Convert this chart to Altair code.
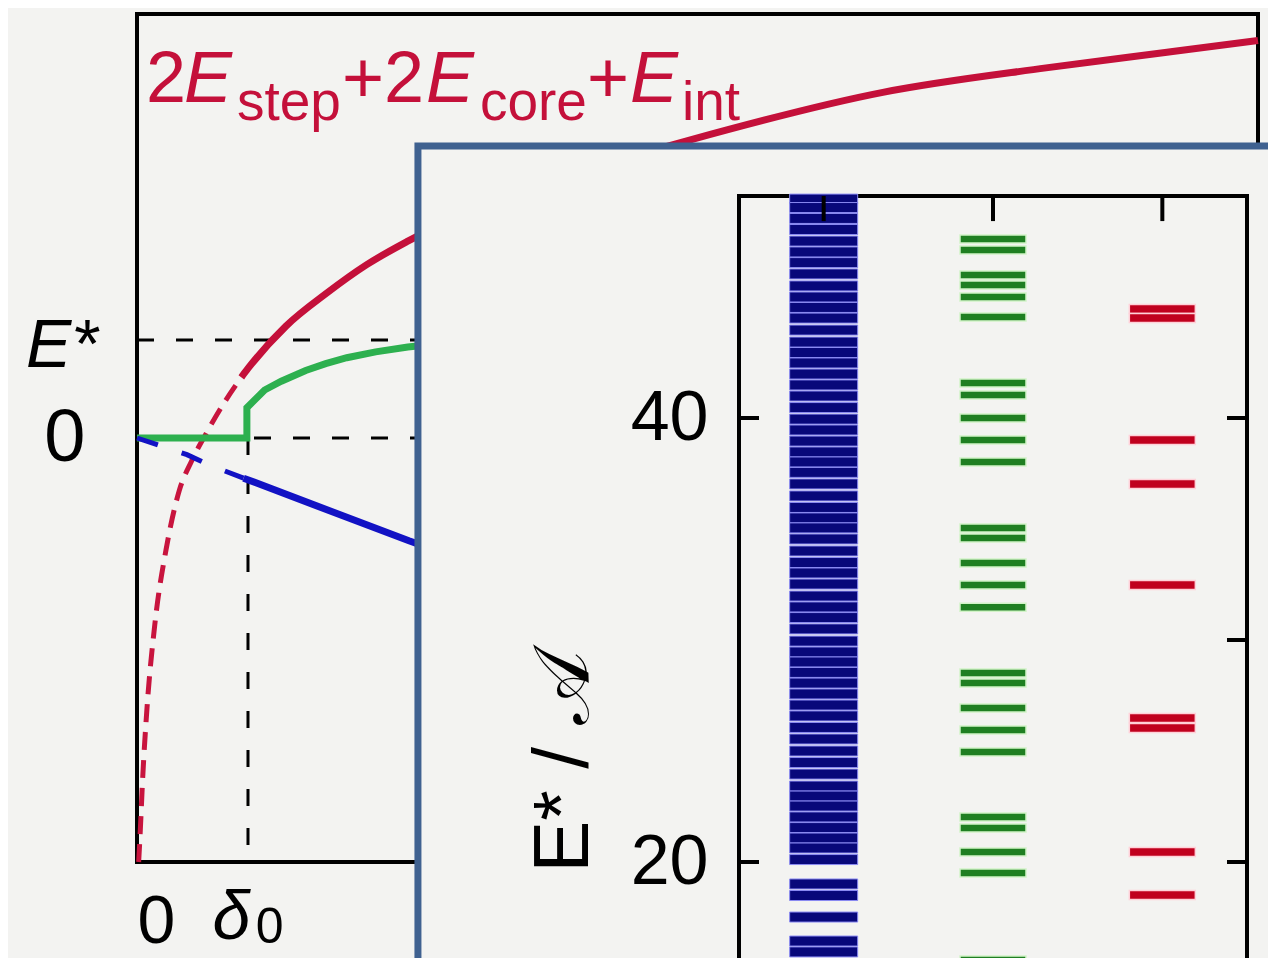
import altair as alt
import pandas as pd

# ---------------- main panel (units: delta0 = 1 on x, E* = 1 on y) ----------------
red_dash_x = [0.015, 0.03, 0.05, 0.09, 0.16, 0.27, 0.38, 0.49, 0.62, 0.78, 0.94]
red_dash_y = [-4.33, -4.0, -3.5, -2.76, -1.91, -1.09, -0.54, -0.24, 0.04, 0.35, 0.62]
red_solid_x = [0.94, 1.0, 1.34, 1.71, 2.07, 2.44, 3.0, 4.0, 4.97, 6.72, 8.19, 9.28, 10.1]
red_solid_y = [0.62, 0.71, 1.14, 1.48, 1.77, 2.01, 2.32, 2.72, 3.04, 3.53, 3.78, 3.94, 4.06]
green_x = [0.0, 0.99, 0.99, 1.15, 1.3, 1.52, 1.7, 1.89, 2.15, 2.44, 2.7]
green_y = [0.0, 0.0, 0.31, 0.49, 0.58, 0.69, 0.76, 0.82, 0.88, 0.93, 0.96]
blue_dash_x = [0.0, 0.45, 0.66, 0.96]
blue_dash_y = [0.0, -0.17, -0.28, -0.41]
blue_solid_x = [0.96, 2.45, 2.7]
blue_solid_y = [-0.41, -1.05, -1.15]

main_x_domain = [0, 10.1]
main_y_domain = [-4.33, 4.33]

# reference dashed lines: (x, x2, y, y2)
guide_x = [0.0, 0.0, 1.0]
guide_x2 = [10.1, 10.1, 1.0]
guide_y = [1.0, 0.0, 0.0]
guide_y2 = [1.0, 0.0, -4.33]

# annotation text of the main panel (anchor in data units)
formula_text = ["2", "E", "step", "+2", "E", "core", "+", "E", "int"]
formula_kind = ["up", "it", "sub", "up", "it", "sub", "up", "it", "sub"]
formula_x = [0.081, 0.423, 0.901, 1.847, 2.604, 3.090, 4.054, 4.441, 4.910]
formula_y = [3.43, 3.43, 3.245, 3.43, 3.43, 3.245, 3.43, 3.43, 3.245]

# ---------------- inset: energy levels E*/A ----------------
blue_levels = [49.86, 49.48, 48.99, 48.49, 47.97, 47.48, 47.00, 46.49, 45.95, 45.45,
               44.98, 44.50, 43.96, 43.42, 42.95, 42.48, 41.98, 41.49, 40.99, 40.47,
               39.95, 39.46, 38.96, 38.47, 38.02, 37.55, 37.03, 36.49, 35.97, 35.50,
               35.05, 34.55, 34.01, 33.49, 33.02, 32.52, 31.98, 31.49, 31.01, 30.50,
               29.95, 29.46, 29.01, 28.54, 28.06, 27.57, 27.07, 26.58, 26.06, 25.54,
               25.00, 24.48, 23.96, 23.42, 22.97, 22.52, 22.03, 21.55, 21.08, 20.63,
               20.11, 19.01, 18.49, 17.52, 16.44, 15.95, 15.18]
green_levels = [48.06, 47.57, 46.44, 45.99, 45.45, 44.55,
                41.58, 41.04, 40.0, 39.01, 38.02,
                35.05, 34.59, 33.47, 32.48, 31.47,
                28.51, 28.06, 26.94, 25.95, 24.95,
                22.03, 21.53, 20.45, 19.50,
                15.59, 15.10]
red_levels = [44.91, 44.50, 39.01, 37.03, 32.48, 26.49, 26.04, 20.45, 18.51]
columns = [1, 2, 3]

inset_x_domain = [0.5, 3.5]
inset_y_ticks_left = [20, 40]
inset_y_ticks_right = [20, 30, 40]

RED = "#c4103a"
GREEN = "#2db04f"
BLUE = "#1212c4"
BG = "#f3f3f1"
W, H = 1121, 848

# ---------------- main encodings ----------------
mx_axis = alt.Axis(values=[0], title="", domain=False, ticks=False, grid=False,
                   labelFontSize=68, labelPadding=26, labelColor="black",
                   labelFont="Liberation Sans", orient="bottom")
my_axis = alt.Axis(values=[0], title="", domain=False, ticks=False, grid=False,
                   labelFontSize=74, labelPadding=52, labelColor="black",
                   labelFont="Liberation Sans", orient="left")
mscale_x = alt.Scale(domain=main_x_domain, nice=False, zero=False)
mscale_y = alt.Scale(domain=main_y_domain, nice=False, zero=False)
MX = alt.X("mx:Q", scale=mscale_x, axis=mx_axis)
MY = alt.Y("my:Q", scale=mscale_y, axis=my_axis)


def line_df(xs, ys):
    return pd.DataFrame({"mx": xs, "my": ys, "i": list(range(len(xs)))})


frame_df = pd.DataFrame({"mx": [main_x_domain[0]], "mx2": [main_x_domain[1]],
                         "my": [main_y_domain[0]], "my2": [main_y_domain[1]]})
frame = alt.Chart(frame_df).mark_rect(fill=BG, stroke="black", strokeWidth=4).encode(
    x=MX, x2="mx2", y=MY, y2="my2")

guides_df = pd.DataFrame({"mx": guide_x, "mx2": guide_x2, "my": guide_y, "my2": guide_y2})
guides = alt.Chart(guides_df).mark_rule(color="black", strokeWidth=3,
                                        strokeDash=[17, 22]).encode(
    x=MX, x2="mx2", y=MY, y2="my2")

red_dash = alt.Chart(line_df(red_dash_x, red_dash_y)).mark_line(
    color="#c8143e", strokeWidth=5, strokeDash=[18, 10], interpolate="monotone").encode(
    x=MX, y=MY, order="i:Q")
red_solid = alt.Chart(line_df(red_solid_x, red_solid_y)).mark_line(
    color=RED, strokeWidth=7, interpolate="monotone").encode(x=MX, y=MY, order="i:Q")
green = alt.Chart(line_df(green_x, green_y)).mark_line(
    color=GREEN, strokeWidth=7).encode(x=MX, y=MY, order="i:Q")
blue_dash = alt.Chart(line_df(blue_dash_x, blue_dash_y)).mark_line(
    color=BLUE, strokeWidth=5, strokeDash=[22, 25]).encode(x=MX, y=MY, order="i:Q")
blue_solid = alt.Chart(line_df(blue_solid_x, blue_solid_y)).mark_line(
    color=BLUE, strokeWidth=7).encode(x=MX, y=MY, order="i:Q")

formula_df = pd.DataFrame({"t": formula_text, "k": formula_kind,
                           "mx": formula_x, "my": formula_y})
f_up = alt.Chart(formula_df).transform_filter(alt.datum.k == "up").mark_text(
    align="left", baseline="alphabetic", font="Liberation Sans", fontSize=72,
    color=RED).encode(x=MX, y=MY, text="t:N")
f_it = alt.Chart(formula_df).transform_filter(alt.datum.k == "it").mark_text(
    align="left", baseline="alphabetic", font="Liberation Sans", fontSize=72,
    fontStyle="italic", color=RED).encode(x=MX, y=MY, text="t:N")
f_sub = alt.Chart(formula_df).transform_filter(alt.datum.k == "sub").mark_text(
    align="left", baseline="alphabetic", font="Liberation Sans", fontSize=55,
    color=RED).encode(x=MX, y=MY, text="t:N")

# axis symbols E* and delta_0
sym_df = pd.DataFrame({"t": ["E*", "δ", "0"], "k": ["it", "it", "sub"],
                       "mx": [-1.0, 0.68, 1.07], "my": [0.724, -5.12, -5.16]})
s_it = alt.Chart(sym_df).transform_filter(alt.datum.k == "it").mark_text(
    align="left", baseline="alphabetic", font="Liberation Sans", fontSize=68,
    fontStyle="italic", color="black").encode(x=MX, y=MY, text="t:N")
s_sub = alt.Chart(sym_df).transform_filter(alt.datum.k == "sub").mark_text(
    align="left", baseline="alphabetic", font="Liberation Sans", fontSize=50,
    color="black").encode(x=MX, y=MY, text="t:N")

main = alt.layer(frame, guides, red_dash, red_solid, green, blue_dash, blue_solid,
                 f_up, f_it, f_sub, s_it, s_sub)

# ---------------- inset encodings (own scales mapped into the page) ----------------
iscale_x = alt.Scale(domain=inset_x_domain, range=[602, 1110], nice=False, zero=False)
iscale_y = alt.Scale(domain=[20, 40], range=[848, 404], nice=False, zero=False)
iy_axis = alt.Axis(values=inset_y_ticks_left, title="", domain=False, ticks=False,
                   grid=False, labelFontSize=70, labelPadding=31, labelColor="black",
                   labelFont="Liberation Sans", orient="left", offset=-602, zindex=2)
IX = alt.X("ix:Q", scale=iscale_x, axis=None)
IY = alt.Y("iy:Q", scale=iscale_y, axis=iy_axis)

panel_df = pd.DataFrame({"ix": [-1.396], "ix2": [6.0], "iy": [52.25], "iy2": [-5.0]})
panel = alt.Chart(panel_df).mark_rect(fill=BG, stroke="#3f6190", strokeWidth=7).encode(
    x=IX, x2="ix2", y=IY, y2="iy2")

iframe_df = pd.DataFrame({"ix": [inset_x_domain[0]], "ix2": [inset_x_domain[1]],
                          "iy": [50.0], "iy2": [-5.0]})
iframe = alt.Chart(iframe_df).mark_rect(fill=BG, stroke="black", strokeWidth=4).encode(
    x=IX, x2="ix2", y=IY, y2="iy2")

tick_rows = ([{"ix": 0.5, "ix2": 0.618, "iy": v, "iy2": v} for v in inset_y_ticks_left]
             + [{"ix": 3.382, "ix2": 3.5, "iy": v, "iy2": v} for v in inset_y_ticks_right]
             + [{"ix": c, "ix2": c, "iy": 50.0, "iy2": 48.87} for c in columns])
iticks = alt.Chart(pd.DataFrame(tick_rows)).mark_rule(color="black", strokeWidth=4).encode(
    x=IX, x2="ix2", y=IY, y2="iy2")


def level_df(col, levels):
    return pd.DataFrame({"ix": [col] * len(levels), "iy": levels})


blue_lv = alt.Chart(level_df(columns[0], blue_levels)).mark_tick(
    orient="horizontal", size=68, thickness=10, color="#08087a", stroke="#8a8af2",
    strokeWidth=1, opacity=1).encode(x=IX, y=IY)
green_lv = alt.Chart(level_df(columns[1], green_levels)).mark_tick(
    orient="horizontal", size=66, thickness=8, color="#1f7f22", stroke="#d2f3c8",
    strokeWidth=1.5, opacity=1).encode(x=IX, y=IY)
red_lv = alt.Chart(level_df(columns[2], red_levels)).mark_tick(
    orient="horizontal", size=66, thickness=9, color="#c0001e", stroke="#ffd0d8",
    strokeWidth=1.5, opacity=1).encode(x=IX, y=IY)

ititle_df = pd.DataFrame({"t": ["E* / 𝒜"], "ix": [-0.528], "iy": [24.5]})
ititle = alt.Chart(ititle_df).mark_text(
    angle=270, align="center", baseline="middle", font="Liberation Sans",
    fontSize=78, color="black").encode(x=IX, y=IY, text="t:N")

inset = alt.layer(panel, iframe, blue_lv, green_lv, red_lv, iticks, ititle)

chart = alt.layer(main, inset).resolve_scale(
    x="independent", y="independent").properties(
    width=W, height=H, autosize="none",
    padding={"left": 129, "top": 6, "right": 10, "bottom": 96},
    background=BG).configure_view(strokeWidth=0).configure(font="Liberation Sans")

chart.save("out.html", embed_options={"renderer": "svg", "actions": False})
